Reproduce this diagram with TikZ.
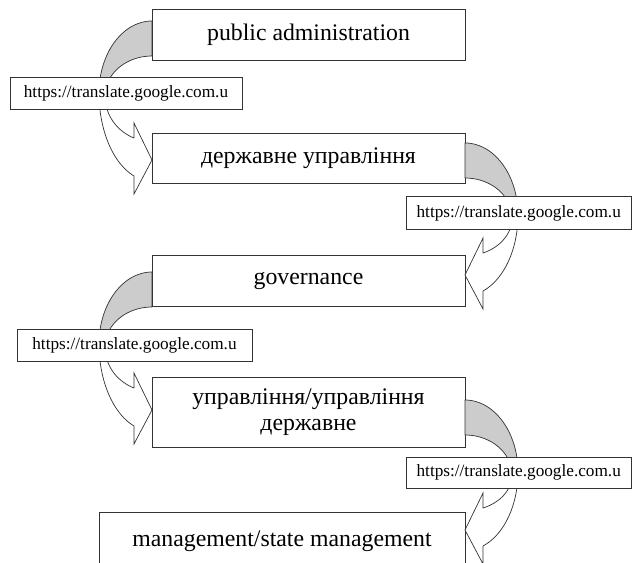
\documentclass[tikz,border=0pt]{standalone}
\usepackage{fontspec}
\setmainfont{Liberation Serif}
\usetikzlibrary{calc}

\definecolor{bandgray}{RGB}{204,204,204}

\tikzset{
	termbox/.style={draw=black!80, line width=0.7pt, fill=white, minimum width=9.39cm, inner sep=0pt, outer sep=0pt, align=center, font=\fontsize{20.3}{22.5}\selectfont},
	linkbox/.style={draw=black!80, line width=0.7pt, fill=white, minimum height=0.97cm, inner sep=0pt, outer sep=0pt, font=\fontsize{14.7}{17}\selectfont},
	band/.style={draw=black!80, line width=0.6pt, line join=miter}
}

% curved block arrow: #1 start point, #2 side (1 right, -1 left), #3 depth of the tip
\newcommand{\bendarrow}[3]{%
	\begin{scope}[shift={#1}, xscale=#2]
		\pgfmathsetmacro{\ryo}{(#3-56)/0.9406}
		\pgfmathsetmacro{\ryi}{(#3-97)/0.9238}
		\filldraw[band, fill=bandgray] plot[domain=90:0, samples=30] ({53*cos(\x)}, {72-72*sin(\x)})
			-- plot[domain=0:90, samples=30] ({47*cos(\x)}, {75-40*sin(\x)}) -- cycle;
		\filldraw[band, fill=white] plot[domain=0:-70.15, samples=30] ({53*cos(\x)}, {72-\ryo*sin(\x)})
			-- (18, #3+34) -- (0, #3) -- (18, #3-37) -- (18, #3-22)
			-- plot[domain=-67.48:0, samples=30] ({47*cos(\x)}, {75-\ryi*sin(\x)}) -- cycle;
	\end{scope}}

\begin{document}
\begin{tikzpicture}[x=0.03cm, y=-0.03cm]
	\useasboundingbox (0,0) rectangle (632,563);
	\clip (0,0) rectangle (632,563);
	
	% terms
	\node[termbox, minimum height=1.53cm] (pa)  at (308.5, 34.5)  {public administration};
	\node[termbox, minimum height=1.50cm] (du)  at (308.5, 158)   {державне управління};
	\node[termbox, minimum height=1.53cm] (gov) at (308.5, 280.5) {governance};
	\node[termbox, minimum height=2.10cm] (ud)  at (308.5, 412)   {управління/управління\\державне};
	\node[termbox, minimum height=1.74cm, minimum width=10.98cm] (sm) at (282, 541) {management/state management};
	
	% arrows
	\bendarrow{($(pa.north west)+(0,12)$)}{-1}{139}
	\bendarrow{($(du.north east)+(0,10)$)}{1}{132}
	\bendarrow{($(gov.north west)+(0,17)$)}{-1}{138}
	\bendarrow{($(ud.north east)+(0,23)$)}{1}{130}
	
	% sources
	\node[linkbox, minimum width=6.96cm] (src1) at (126, 93.5) {https://translate.google.com.u};
	\node[linkbox, minimum width=6.765cm] (src2) at (518.75, 213) {https://translate.google.com.u};
	\node[linkbox, minimum width=7.05cm] (src3) at (134.5, 345.5) {https://translate.google.com.u};
	\node[linkbox, minimum width=6.765cm, minimum height=0.93cm] (src4) at (518.75, 472.5) {https://translate.google.com.u};
\end{tikzpicture}
\end{document}
